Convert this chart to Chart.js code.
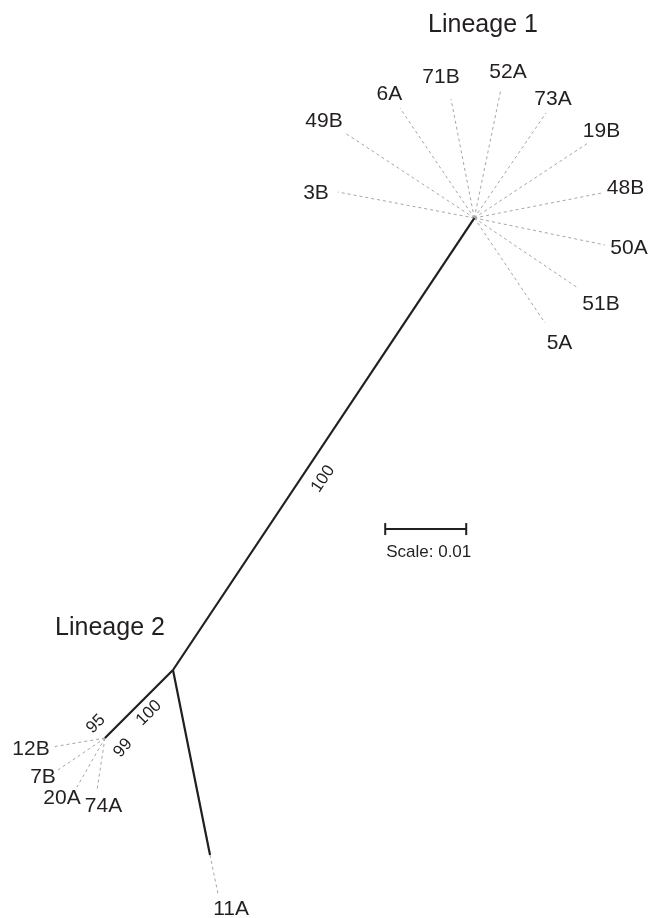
<!DOCTYPE html>
<html><head><meta charset="utf-8">
<script src="https://cdn.jsdelivr.net/npm/chart.js@4/dist/chart.umd.min.js"></script>
<style>html,body{margin:0;padding:0;background:#fff}#wrap{width:652px;height:918px;position:relative}</style>
</head><body><div id="wrap"><canvas id="c"></canvas></div>
<script>
// ---- Tree data (unrooted tree, coordinates in substitutions/site) ----
const nodeIds = ['root', 'L1', 'L2', '11Aend'];
const nodeX   = [0, 0.0372, -0.0084, 0.00457];
const nodeY   = [0, 0.0558, -0.0084, -0.02284];
const edgeFrom = ['root', 'root', 'root'];
const edgeTo   = ['L1', 'L2', '11Aend'];

const leafNames  = ['3B','49B','6A','71B','52A','73A','19B','48B','50A','51B','5A','12B','7B','20A','74A','11A'];
const leafParent = ['L1','L1','L1','L1','L1','L1','L1','L1','L1','L1','L1','L2','L2','L2','L2','11Aend'];
const leafX = [0.02037,0.02123,0.02802,0.03432,0.04049,0.04605,0.05123,0.05296,0.05333,0.05000,0.04593,-0.01494,-0.01420,-0.01185,-0.00938,0.00556];
const leafY = [0.05901,0.06630,0.06938,0.07049,0.07173,0.06877,0.06506,0.05889,0.05247,0.04716,0.04284,-0.00951,-0.01235,-0.01444,-0.01481,-0.02765];

const supportValues   = ['100', '100', '99', '95'];
const supportEdgeFrom = ['root', 'L2', 'L2', 'L2'];
const supportEdgeTo   = ['L1', 'root', 'root', 'root'];

const lineageNames = ['Lineage 1', 'Lineage 2'];
const scaleBarLength = 0.01;
const scaleBarLabel = 'Scale: 0.01';

// ---- helpers ----
const idx = id => nodeIds.indexOf(id);
const datasets = [];
leafNames.forEach((n, i) => {
  const p = idx(leafParent[i]);
  datasets.push({
    data: [{x: nodeX[p], y: nodeY[p]}, {x: leafX[i], y: leafY[i]}],
    showLine: true, borderColor: '#a6a6a6', borderWidth: 1, borderDash: [3, 3],
    pointRadius: 0, order: 2
  });
});
edgeFrom.forEach((f, i) => {
  const a = idx(f), b = idx(edgeTo[i]);
  datasets.push({
    data: [{x: nodeX[a], y: nodeY[a]}, {x: nodeX[b], y: nodeY[b]}],
    showLine: true, borderColor: '#231f20', borderWidth: 2.2,
    pointRadius: 0, order: 1
  });
});
// scale bar and its end caps
const sbX = 0.0262, sbY = 0.0174, capH = 0.00074;
const sbLine = (pts) => ({data: pts, showLine: true, borderColor: '#231f20', borderWidth: 2, pointRadius: 0, order: 0});
datasets.push(sbLine([{x: sbX, y: sbY}, {x: sbX + scaleBarLength, y: sbY}]));
datasets.push(sbLine([{x: sbX, y: sbY - capH}, {x: sbX, y: sbY + capH}]));
datasets.push(sbLine([{x: sbX + scaleBarLength, y: sbY - capH}, {x: sbX + scaleBarLength, y: sbY + capH}]));

const annot = {
  id: 'annot',
  afterDatasetsDraw(chart, args, o) {
    const {ctx, scales: {x, y}} = chart;
    const px = v => x.getPixelForValue(v), py = v => y.getPixelForValue(v);
    ctx.save();
    ctx.fillStyle = o.color;
    ctx.textAlign = 'center';
    ctx.textBaseline = 'alphabetic';
    ctx.font = o.leafSize + 'px "Liberation Sans", Arial, sans-serif';
    leafNames.forEach((n, i) => {
      const off = o.leafOffsets[i];
      ctx.fillText(n, px(leafX[i]) + off[0], py(leafY[i]) + off[1] + o.leafSize * 0.358);
    });
    ctx.font = o.titleSize + 'px "Liberation Sans", Arial, sans-serif';
    lineageNames.forEach((n, i) => {
      ctx.fillText(n, px(o.titlePos[i][0]), py(o.titlePos[i][1]));
    });
    ctx.textAlign = 'left';
    ctx.font = o.scaleSize + 'px "Liberation Sans", Arial, sans-serif';
    ctx.fillText(scaleBarLabel, px(sbX) + 1, py(sbY) + 28);
    ctx.textAlign = 'center';
    ctx.font = o.supportSize + 'px "Liberation Sans", Arial, sans-serif';
    supportValues.forEach((s, i) => {
      const a = idx(supportEdgeFrom[i]), b = idx(supportEdgeTo[i]);
      const x1 = px(nodeX[a]), y1 = py(nodeY[a]), x2 = px(nodeX[b]), y2 = py(nodeY[b]);
      const len = Math.hypot(x2 - x1, y2 - y1);
      const dx = (x2 - x1) / len, dy = (y2 - y1) / len;
      const nx = -dy, ny = dx;
      const st = o.supportPlace[i];
      const cx = x1 + dx * st.t * len + nx * st.off;
      const cy = y1 + dy * st.t * len + ny * st.off;
      ctx.save();
      ctx.translate(cx, cy);
      ctx.rotate(st.rot * Math.PI / 180);
      ctx.fillText(s, 0, o.supportSize * 0.358);
      ctx.restore();
    });
    ctx.restore();
  }
};

new Chart(document.getElementById('c'), {
  type: 'scatter',
  data: {datasets},
  options: {
    responsive: true, maintainAspectRatio: false, animation: false,
    devicePixelRatio: 1,
    layout: {padding: 2},
    scales: {
      x: {type: 'linear', display: false, min: -0.021111, max: 0.058889},
      y: {type: 'linear', display: false, min: -0.030371, max: 0.082469}
    },
    plugins: {
      legend: {display: false},
      tooltip: {enabled: false},
      annot: {
        color: '#231f20',
        leafSize: 21, titleSize: 25, scaleSize: 17, supportSize: 17,
        leafOffsets: [[-22,-1],[-21,-13.5],[-10.5,-15.5],[-10,-24],[7,-18.5],[7,-15.5],[13.5,-13.5],[23.5,-7],[24,1.5],[23,14.5],[14.5,18],[-21,0],[-15,5],[-15,9.5],[6.5,15],[13,13.5]],
        titlePos: [[0.03827, 0.07877], [-0.00778, 0.00432]],
        supportPlace: [
          {t: 0.446, off: 17.5, rot: -56},
          {t: 0.507, off: 12, rot: -45},
          {t: 0.059, off: 18.4, rot: -50},
          {t: 0.037, off: -17.7, rot: -45}
        ]
      }
    }
  },
  plugins: [annot]
});
</script></body></html>
